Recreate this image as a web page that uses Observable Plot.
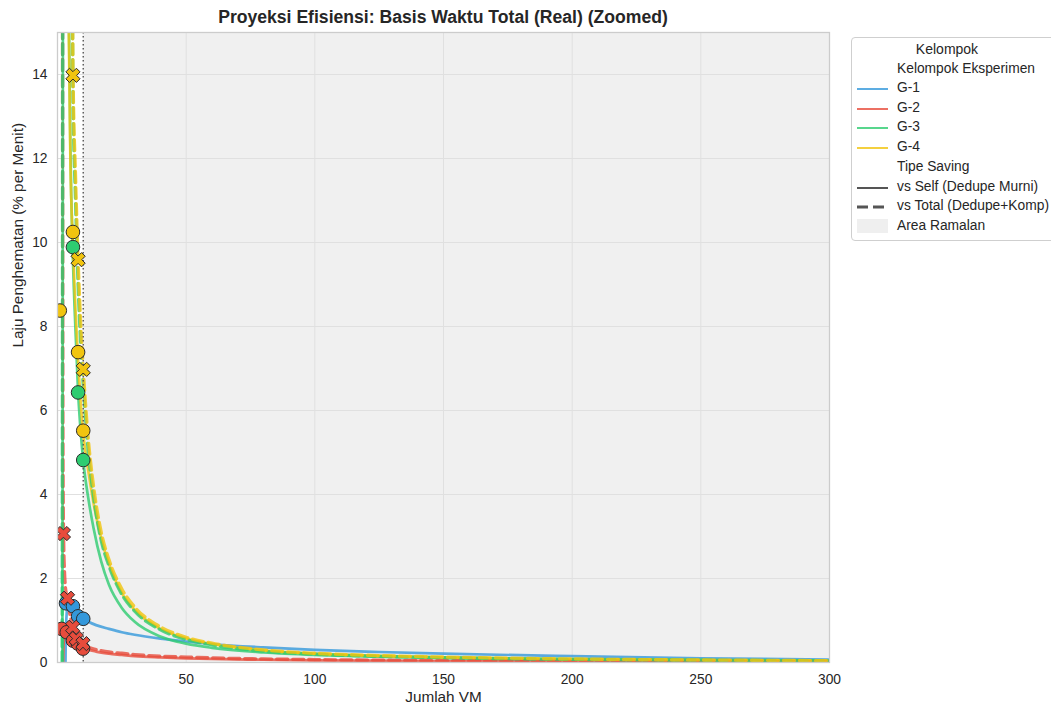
<!DOCTYPE html>
<html><head><meta charset="utf-8">
<script src="https://cdn.jsdelivr.net/npm/d3@7"></script>
<script src="https://cdn.jsdelivr.net/npm/@observablehq/plot@0.6"></script>
<style>
body{margin:0;background:#fff;font-family:"Liberation Sans",Arial,sans-serif;color:#262626}
#wrap{position:relative;width:1051px;height:707px;overflow:hidden}
#title{position:absolute;left:57px;width:772px;top:7px;text-align:center;font-weight:bold;font-size:17.6px}
#legend{position:absolute;left:851px;top:37px;width:205px;height:202px;border:1px solid #cfcfcf;border-radius:4px;background:#fff;font-size:13.8px}
.lt{position:absolute;left:45px;white-space:nowrap}
.ll{position:absolute;left:5px;width:31px;height:0}
</style></head>
<body><div id="wrap"><div id="title"></div><div id="chart"></div><div id="legend"></div></div>
<script>
// ---- data ----
const groups = ["G-1","G-2","G-3","G-4"];
const groupColors = ["#3498db","#e74c3c","#2ecc71","#f1c40f"];
const xTicks = [50,100,150,200,250,300];
const yTicks = [0,2,4,6,8,10,12,14];
const vmDomain = [0,300];
const rateDomain = [0,15];
const forecastStart = 10;
const xLabel = "Jumlah VM";
const yLabel = "Laju Penghematan (% per Menit)";

// projection curves (null = break)
const vmG1Self   = [3.1,3.2,3.35,3.55,3.8,4.2,5,6,7,8,10,12,15,20,25,30,40,50,60,80,100,125,150,200,250,300];
const rateG1Self = [0,0.5,0.9,1.15,1.3,1.38,1.4,1.33,1.22,1.14,1.04,0.97,0.89,0.8,0.72,0.66,0.57,0.5,0.44,0.36,0.3,0.25,0.21,0.15,0.1,0.07];

const vmG2Self   = [2.2,2.35,2.6,3,3.5,4,5,6,8,10,12,15,20,25,30,40,50,60,80,100,150,200,250,300];
const rateG2Self = [0,0.4,0.65,0.76,0.78,0.75,0.66,0.58,0.45,0.37,0.31,0.26,0.21,0.18,0.15,0.12,0.1,0.085,0.065,0.05,0.035,0.025,0.02,0.015];
const vmG2Total   = [1.95,2.05,2.2,2.4,2.7,3,3.5,4,5,6,7,8,10,12,15,20,25,30,40,50,60,80,100,150,200,250,300];
const rateG2Total = [15.5,8,4.2,2.9,2.2,1.85,1.62,1.45,1.08,0.86,0.68,0.56,0.42,0.36,0.31,0.25,0.22,0.19,0.15,0.13,0.11,0.085,0.07,0.045,0.035,0.025,0.02];

const vmG3Self   = [1.9,2.0,2.1,2.1,4.4,5,6,7,8,9,10,12,14,17,20,25,30,40,50,60,80,100,125,150,200,250,300];
const rateG3Self = [0,6,15.5,null,15.5,12.3,9.6,7.9,6.45,5.5,4.8,3.9,3.2,2.4,1.85,1.3,0.97,0.62,0.45,0.35,0.24,0.18,0.14,0.11,0.075,0.055,0.04];
const vmG3Total   = [1.8,1.9,2.0,2.0,5.8,6,7,8,9,10,12,14,17,20,25,30,40,50,60,80,100,150,200,250,300];
const rateG3Total = [0,6,15.5,null,15.5,13.6,11.0,9.0,7.6,6.6,5.0,3.95,2.9,2.3,1.62,1.22,0.78,0.55,0.42,0.27,0.2,0.115,0.075,0.055,0.04];

const vmG4Self   = [4.3,5,6,7,8,9,10,12,14,17,20,25,30,40,50,60,80,100,125,150,200,250,300];
const rateG4Self = [15.5,12.0,9.9,8.4,7.2,6.2,5.45,4.55,3.8,2.95,2.35,1.65,1.25,0.8,0.57,0.44,0.29,0.21,0.16,0.12,0.08,0.06,0.04];
const vmG4Total   = [5.9,6,7,8,9,10,12,14,17,20,25,30,40,50,60,80,100,125,150,200,250,300];
const rateG4Total = [15.5,14.2,11.6,9.6,8.1,7.0,5.3,4.2,3.1,2.45,1.75,1.32,0.85,0.6,0.46,0.3,0.22,0.165,0.13,0.085,0.06,0.045];

// observed points
const vmG1Pts = [3.3,6,8,10];      const rateG1SelfPts = [1.41,1.34,1.10,1.04];
const vmG2SelfPts = [1.6,3.6,6,7.9,9.9]; const rateG2SelfPts = [0.80,0.72,0.52,0.45,0.33];
const vmG2TotalPts = [2.3,3.9,5.9,7.3,9.9]; const rateG2TotalPts = [3.07,1.53,0.84,0.57,0.45];
const vmG3Pts = [6,8,10];          const rateG3SelfPts = [9.89,6.43,4.82];
const vmG4SelfPts = [0.9,6,8,10];  const rateG4SelfPts = [8.38,10.25,7.39,5.52];
const vmG4TotalPts = [6,8,10];     const rateG4TotalPts = [13.98,9.59,6.98];

// ---- build tables ----
const rows = (g, type, xs, ys) => xs.map((vm, i) => ({group: g, type, key: g + type, vm, rate: ys[i]}));
const solidLines = [
  ...rows("G-1","self",vmG1Self,rateG1Self),
  ...rows("G-2","self",vmG2Self,rateG2Self),
  ...rows("G-3","self",vmG3Self,rateG3Self),
  ...rows("G-4","self",vmG4Self,rateG4Self)];
const dashedLines = [
  ...rows("G-2","total",vmG2Total,rateG2Total),
  ...rows("G-3","total",vmG3Total,rateG3Total),
  ...rows("G-4","total",vmG4Total,rateG4Total)];
const selfPts = [
  ...rows("G-1","self",vmG1Pts,rateG1SelfPts),
  ...rows("G-2","self",vmG2SelfPts,rateG2SelfPts),
  ...rows("G-3","self",vmG3Pts,rateG3SelfPts),
  ...rows("G-4","self",vmG4SelfPts,rateG4SelfPts)];
const totalPts = [
  ...rows("G-2","total",vmG2TotalPts,rateG2TotalPts),
  ...rows("G-4","total",vmG4TotalPts,rateG4TotalPts)];

const xSymbol = {
  draw(context, size) {
    const r = Math.sqrt(size / Math.PI);
    const e = r * 1.1, w = r * 0.38, c = Math.SQRT1_2;
    const pts = [[w,e],[w,w],[e,w],[e,-w],[w,-w],[w,-e],[-w,-e],[-w,-w],[-e,-w],[-e,w],[-w,w],[-w,e]];
    pts.forEach(([x,y],i) => { const X=(x-y)*c, Y=(x+y)*c; if (i) context.lineTo(X,Y); else context.moveTo(X,Y); });
    context.closePath();
  }
};

const chart = Plot.plot({
  width: 1051, height: 707,
  marginLeft: 57, marginRight: 222, marginTop: 32, marginBottom: 45,
  style: {fontFamily: '"Liberation Sans", Arial, sans-serif', fontSize: "13.8px", color: "#262626", background: "transparent"},
  x: {domain: vmDomain},
  y: {domain: rateDomain},
  color: {domain: groups, range: groupColors},
  marks: [
    Plot.rect([{a: forecastStart, b: vmDomain[1]}], {x1: "a", x2: "b", y1: () => rateDomain[0], y2: () => rateDomain[1], fill: "#000", fillOpacity: 0.058}),
    Plot.gridX(xTicks, {stroke: "#e0e0e0", strokeOpacity: 1, strokeWidth: 1}),
    Plot.gridY(yTicks, {stroke: "#e0e0e0", strokeOpacity: 1, strokeWidth: 1}),
    Plot.axisY(yTicks, {tickSize: 0, tickPadding: 10, label: null, fontSize: 13.8}),
    Plot.axisX(xTicks, {tickSize: 0, tickPadding: 12, label: null, fontSize: 13.8}),
    Plot.text([xLabel], {frameAnchor: "bottom", dy: 39, fontSize: 15.3, fill: "#262626"}),
    Plot.text([yLabel], {frameAnchor: "left", dx: -39, rotate: -90, fontSize: 15.3, fill: "#262626"}),
    Plot.line(solidLines, {x: "vm", y: "rate", z: "key", stroke: "group", strokeWidth: 2.7, strokeOpacity: 0.8, curve: "monotone-x", clip: true}),
    Plot.line(dashedLines, {x: "vm", y: "rate", z: "key", stroke: "group", strokeWidth: 3.3, strokeOpacity: 0.8, strokeDasharray: "11,5", curve: "monotone-x", clip: true}),
    Plot.ruleX([forecastStart], {stroke: "#555", strokeWidth: 1.4, strokeDasharray: "1.5,2.5"}),
    Plot.dot(selfPts, {x: "vm", y: "rate", fill: "group", r: 6.8, stroke: "#2b2b2b", strokeWidth: 1, fillOpacity: 1, clip: true}),
    Plot.dot(totalPts, {x: "vm", y: "rate", fill: "group", r: 6.8, symbol: xSymbol, stroke: "#2b2b2b", strokeWidth: 1, clip: true}),
    Plot.frame({stroke: "#cccccc", strokeWidth: 1.3})
  ]
});
document.getElementById("chart").appendChild(chart);
document.getElementById("title").textContent = "Proyeksi Efisiensi: Basis Waktu Total (Real) (Zoomed)";

// legend
const lg = document.getElementById("legend");
const add = (html) => lg.insertAdjacentHTML("beforeend", html);
add('<div style="position:absolute;left:0;width:190px;top:3px;text-align:center;font-size:14px">Kelompok</div>');
add('<div class="lt" style="top:23px">Kelompok Eksperimen</div>');
groups.forEach((g, i) => {
  const top = 42 + i * 19.6;
  add(`<div class="ll" style="top:${top + 8}px;border-top:2.8px solid ${groupColors[i]};opacity:0.8"></div><div class="lt" style="top:${top}px">${g}</div>`);
});
add('<div class="lt" style="top:121px">Tipe Saving</div>');
add('<div class="ll" style="top:149px;border-top:2.8px solid #555"></div><div class="lt" style="top:141px">vs Self (Dedupe Murni)</div>');
add('<svg style="position:absolute;left:5px;top:166px" width="32" height="6"><line x1="0" y1="3" x2="31" y2="3" stroke="#555" stroke-width="3" stroke-dasharray="11,5"/></svg><div class="lt" style="top:160px">vs Total (Dedupe+Komp)</div>');
add('<div style="position:absolute;left:5px;top:181px;width:31px;height:14px;background:#efefef"></div><div class="lt" style="top:180px">Area Ramalan</div>');
</script></body></html>
